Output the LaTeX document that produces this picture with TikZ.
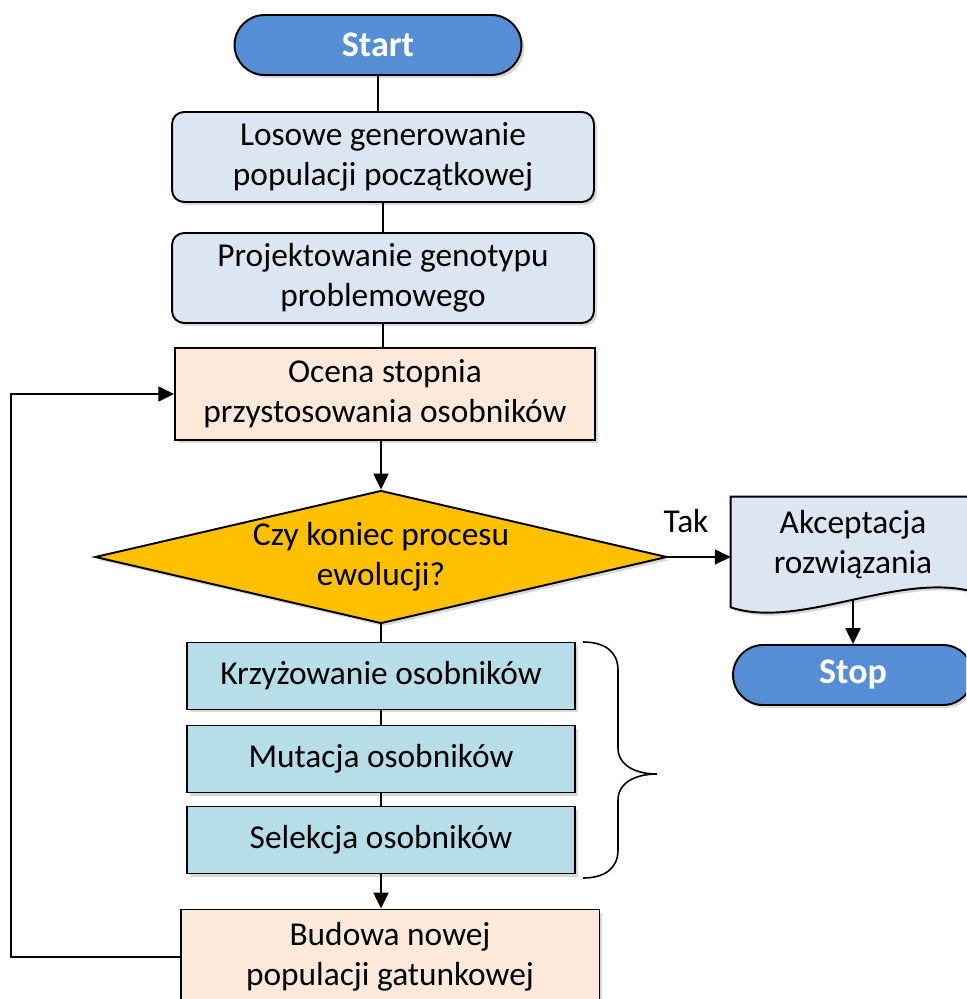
\documentclass[tikz,border=0pt]{standalone}
\usepackage{fontspec}
\setmainfont{Carlito}
\usetikzlibrary{shapes.geometric,shapes.misc,arrows.meta,shadows,calc,backgrounds}
\definecolor{termblue}{HTML}{558ED5}
\definecolor{initfill}{HTML}{DCE6F2}
\definecolor{evalfill}{HTML}{FDE9D9}
\definecolor{decfill}{HTML}{FFC000}
\definecolor{opfill}{HTML}{B7DDE8}
\begin{document}
\begin{tikzpicture}[x=0.02cm,y=-0.02cm,
  shade/.style={drop shadow={shadow xshift=0.06cm,shadow yshift=-0.06cm,opacity=0.3}},
  basebox/.style={draw=black,line width=1.1pt,align=center,inner sep=0pt,
    font=\fontsize{19}{23}\selectfont,text=black,shade},
  term/.style={basebox,rounded rectangle,fill=termblue,text=white,
    font=\fontsize{20.5}{24}\bfseries\selectfont,minimum width=5.74cm,minimum height=1.2cm},
  initbox/.style={basebox,rectangle,rounded corners=0.24cm,fill=initfill,
    minimum width=8.44cm,minimum height=1.8cm},
  evalbox/.style={basebox,rectangle,fill=evalfill,minimum height=1.84cm},
  decbox/.style={basebox,diamond,aspect=4.3,fill=decfill,minimum width=11.44cm,minimum height=2.66cm},
  opbox/.style={basebox,rectangle,fill=opfill,minimum width=7.76cm,minimum height=1.34cm},
  lbl/.style={font=\fontsize{19}{23}\selectfont,text=black,inner sep=0pt,align=center},
  link/.style={draw=black,line width=1.1pt},
  arr/.style={link,-{Triangle[length=9pt,width=8.5pt]}}]
\useasboundingbox (0,0) rectangle (966,999);
\clip (0,0) rectangle (966,999);

% main column
\node[term] (start) at (378,45) {Start};
\node[initbox] (init) at (383,157) {Losowe generowanie\\populacji początkowej};
\node[initbox] (geno) at (383,278) {Projektowanie genotypu\\problemowego};
\node[evalbox,minimum width=8.4cm] (eval) at (385,394) {Ocena stopnia\\przystosowania osobników};
\node[decbox] (dec) at (381,557) {Czy koniec procesu\\ewolucji?};
\node[opbox] (cross) at (381,676) {Krzyżowanie osobników};
\node[opbox] (mut) at (381,759) {Mutacja osobników};
\node[opbox] (sel) at (381,840) {Selekcja osobników};
\node[evalbox,minimum width=8.38cm,minimum height=1.9cm] (build) at (390,957) {Budowa nowej\\populacji gatunkowej};

% accept branch: document symbol with a wavy lower edge
\node[lbl,minimum width=4.88cm,minimum height=1.9cm] (acc) at (853,544.5) {Akceptacja\\rozwiązania};
\begin{scope}[on background layer]
\path[draw=black,line width=1.1pt,fill=initfill,shade]
  (acc.north west) -- (acc.north east) -- (acc.south east)
  .. controls ($(acc.south east)+(-75,-22)$) and ($(acc.south west)+(69,38)$) ..
  ($(acc.south west)+(0,15)$) -- cycle;
\end{scope}
\node[term,minimum width=4.8cm] (stop) at (853,675) {Stop};
\node[lbl] (tak) at (686,521) {Tak};

% connectors
\draw[link] (start.south) -- (start.south |- init.north);
\draw[link] (init.south) -- (init.south |- geno.north);
\draw[link] (geno.south) -- (geno.south |- eval.north);
\draw[arr] (dec.north |- eval.south) -- (dec.north);
\draw[link] (dec.south) -- (dec.south |- cross.north);
\draw[link] (cross.south) -- (mut.north);
\draw[link] (mut.south) -- (sel.north);
\draw[arr] (sel.south) -- (sel.south |- build.north);
\draw[arr] (dec.east) -- (acc.west |- dec.east);
\draw[arr] ($(acc.south)+(0,7)$) -- (stop.north);
\draw[arr] (build.west) -- ++(-169,0) |- (eval.west);

% brace grouping the genetic operators
\coordinate (bt) at (583,642);
\draw[line width=0.9pt]
  (bt) .. controls ++(22,0) and ++(0,-18) .. ++(35,28)
  -- ++(0,78) .. controls ++(0,17) and ++(-22,0) .. ++(39,26) coordinate (tip)
  .. controls ++(-22,0) and ++(0,-17) .. ++(-39,26)
  -- ++(0,50) .. controls ++(0,18) and ++(22,0) .. ++(-35,28);
\end{tikzpicture}
\end{document}
